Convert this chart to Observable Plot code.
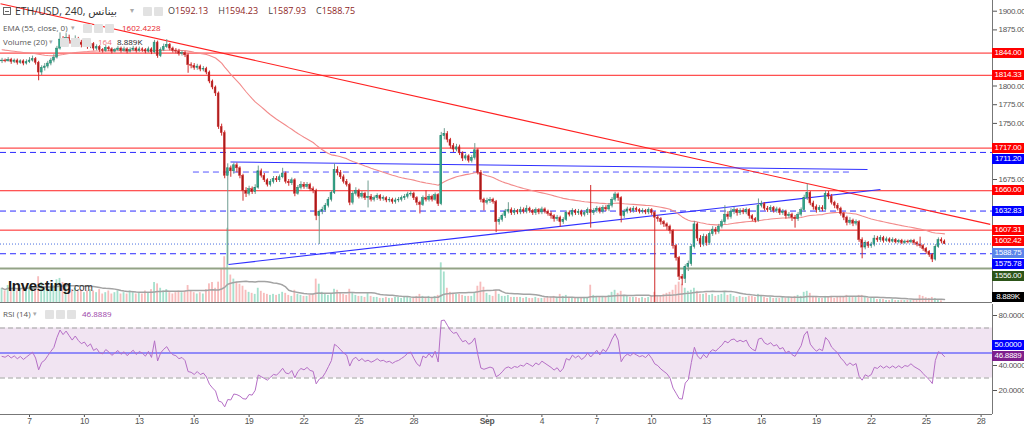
<!DOCTYPE html>
<html><head><meta charset="utf-8">
<script src="https://cdn.jsdelivr.net/npm/d3@7"></script>
<script src="https://cdn.jsdelivr.net/npm/@observablehq/plot@0.6"></script>
<style>
html,body{margin:0;padding:0;background:#fff;}
#chart{position:relative;width:1024px;height:430px;overflow:hidden;background:#fff;font-family:"Liberation Sans",Arial,"DejaVu Sans",sans-serif;}
.layer{position:absolute;left:0;}
.t{position:absolute;white-space:nowrap;line-height:12px;}
.ic{position:absolute;width:9px;height:9px;background:#e2e2e2;border-radius:1px;}
.box{position:absolute;left:992px;width:32px;height:10px;color:#fff;font-size:8px;line-height:10px;text-align:center;letter-spacing:-0.3px;}
</style></head><body><div id="chart"></div><script>
// ---------------- data ----------------
const candleStart = "2023-08-05T12:00:00Z";   // first 240-minute bar
const candleHours = 4;
const firstOpen = 1833;
const closes = [
1834,1833,1835,1832,1834,1831,1833,1830,1832,1834,
1836,1831,1818,1824,1826,1830,1834,1838,1850,1862,
1858,1864,1860,1856,1862,1858,1855,1857,1853,1856,
1850,1852,1848,1847,1851,1849,1846,1848,1850,1847,
1849,1846,1848,1850,1847,1849,1848,1846,1849,1845,
1858,1840,1848,1852,1855,1850,1847,1846,1843,1844,
1841,1828,1827,1824,1826,1822,1823,1818,1806,1798,
1790,1745,1737,1680,1690,1686,1694,1690,1680,1660,
1656,1662,1658,1664,1686,1680,1674,1668,1672,1676,
1674,1678,1683,1672,1670,1674,1656,1664,1668,1665,
1668,1662,1660,1626,1632,1634,1640,1648,1657,1688,
1684,1678,1672,1668,1644,1656,1660,1652,1656,1650,
1652,1648,1650,1653,1649,1650,1647,1648,1645,1647,
1648,1650,1652,1655,1656,1650,1644,1641,1650,1648,
1652,1648,1654,1642,1733,1736,1728,1720,1715,1718,
1710,1703,1706,1700,1704,1714,1684,1648,1644,1646,
1648,1645,1618,1621,1626,1632,1634,1630,1633,1631,
1634,1632,1636,1633,1630,1634,1631,1635,1632,1629,
1626,1622,1624,1618,1621,1630,1628,1633,1630,1632,
1628,1630,1634,1630,1633,1636,1632,1637,1635,1640,
1648,1655,1650,1626,1632,1635,1633,1636,1634,1632,
1633,1631,1634,1630,1624,1622,1618,1615,1612,1606,
1586,1570,1545,1542,1558,1562,1585,1615,1596,1588,
1598,1590,1602,1608,1605,1612,1618,1628,1625,1632,
1634,1630,1633,1631,1634,1626,1622,1620,1640,1642,
1636,1634,1637,1633,1635,1630,1632,1626,1628,1624,
1622,1628,1634,1650,1657,1643,1638,1634,1637,1635,
1656,1652,1644,1640,1636,1629,1624,1617,1620,1616,
1618,1594,1584,1590,1586,1588,1596,1594,1597,1593,
1595,1592,1594,1591,1593,1590,1592,1591,1593,1590,
1588,1586,1582,1578,1574,1568,1585,1594,1592.13,1588.75];
const highs = [
1837,1836,1838,1837,1836,1836,1835,1835,1835,1838,
1840,1838,1833,1827,1830,1833,1837,1842,1853,1871,
1866,1870,1868,1863,1867,1865,1861,1860,1859,1859,
1858,1855,1854,1850,1854,1853,1851,1850,1853,1852,
1852,1851,1851,1853,1852,1852,1851,1850,1852,1851,
1861,1860,1851,1856,1862,1857,1852,1850,1849,1847,
1846,1843,1831,1830,1829,1828,1826,1825,1820,1808,
1800,1792,1749,1740,1696,1693,1697,1697,1692,1682,
1664,1666,1665,1668,1693,1689,1683,1676,1675,1679,
1679,1681,1690,1685,1675,1677,1676,1667,1672,1671,
1671,1670,1665,1662,1634,1638,1643,1651,1660,1696,
1692,1687,1681,1675,1670,1659,1664,1662,1659,1658,
1673,1655,1653,1656,1655,1653,1652,1651,1650,1650,
1651,1653,1655,1658,1659,1658,1652,1646,1653,1660,
1655,1654,1657,1656,1738,1743,1739,1730,1723,1722,
1721,1712,1709,1708,1707,1723,1716,1687,1650,1650,
1651,1650,1647,1624,1629,1635,1644,1637,1636,1635,
1638,1637,1640,1638,1635,1637,1636,1638,1637,1634,
1632,1628,1627,1626,1624,1633,1633,1636,1635,1635,
1634,1633,1637,1667,1636,1639,1638,1640,1640,1643,
1651,1658,1657,1652,1635,1638,1637,1639,1638,1636,
1636,1635,1637,1636,1632,1627,1624,1620,1617,1614,
1608,1588,1572,1548,1561,1566,1588,1619,1617,1600,
1602,1601,1605,1612,1611,1615,1621,1640,1632,1636,
1638,1636,1636,1636,1637,1636,1628,1624,1649,1646,
1644,1639,1640,1639,1638,1637,1635,1634,1631,1630,
1627,1631,1637,1654,1669,1659,1646,1641,1640,1640,
1660,1659,1655,1646,1643,1638,1631,1626,1624,1622,
1621,1620,1597,1593,1592,1591,1600,1599,1600,1599,
1598,1597,1597,1596,1595,1595,1594,1594,1595,1595,
1592,1598,1588,1584,1580,1576,1588,1597,1597,1594.23];
const lows = [
1830,1831,1832,1829,1830,1828,1829,1827,1828,1830,
1832,1828,1807,1814,1820,1823,1827,1831,1836,1848,
1854,1855,1856,1852,1853,1854,1851,1852,1849,1850,
1847,1847,1845,1844,1845,1846,1843,1844,1846,1844,
1845,1843,1844,1846,1844,1845,1845,1843,1844,1842,
1843,1837,1838,1846,1850,1847,1844,1843,1840,1840,
1838,1817,1823,1821,1821,1819,1819,1815,1803,1795,
1786,1742,1733,1676,1561,1678,1682,1684,1676,1646,
1651,1653,1655,1655,1662,1677,1671,1665,1665,1669,
1671,1671,1676,1669,1666,1667,1652,1654,1661,1662,
1662,1659,1656,1620,1588,1628,1631,1637,1645,1655,
1680,1675,1669,1665,1640,1641,1653,1649,1649,1647,
1637,1645,1645,1647,1646,1646,1644,1644,1642,1642,
1644,1645,1647,1649,1652,1647,1640,1629,1639,1645,
1645,1645,1646,1639,1640,1728,1724,1716,1711,1712,
1707,1699,1700,1697,1697,1701,1681,1644,1633,1641,
1643,1642,1604,1614,1618,1623,1629,1627,1627,1628,
1628,1629,1629,1630,1627,1627,1628,1628,1629,1626,
1622,1618,1619,1611,1615,1619,1625,1625,1627,1627,
1625,1625,1627,1610,1627,1630,1629,1629,1632,1632,
1637,1645,1646,1617,1623,1629,1630,1630,1631,1629,
1629,1628,1628,1627,1505,1618,1614,1611,1607,1602,
1582,1566,1540,1533,1536,1552,1559,1582,1592,1584,
1585,1586,1587,1599,1601,1602,1609,1615,1621,1622,
1628,1626,1627,1628,1628,1622,1619,1617,1618,1637,
1633,1631,1631,1630,1630,1627,1627,1622,1623,1619,
1610,1619,1625,1631,1647,1640,1634,1630,1631,1632,
1633,1648,1641,1636,1633,1626,1620,1613,1614,1612,
1613,1591,1569,1581,1583,1583,1585,1591,1591,1590,
1591,1590,1590,1589,1589,1588,1588,1589,1589,1587,
1585,1583,1579,1575,1571,1564,1566,1583,1589,1587.93];
const volumesK = [
42,34,50,38,46,34,42,55,38,46,
42,46,76,59,42,38,46,50,67,71,
59,50,46,38,42,34,38,29,34,38,
34,29,38,25,29,34,25,29,34,25,
29,25,34,29,25,29,25,34,29,38,
59,55,42,34,38,29,25,29,34,29,
34,50,34,29,25,29,25,38,55,59,
42,60,99,135,219,81,69,60,54,48,
36,30,27,24,42,33,27,24,21,24,
21,24,30,27,21,18,36,24,21,18,
18,21,24,69,54,30,24,21,24,39,
36,27,24,21,39,27,21,18,18,15,
27,18,15,15,12,12,15,12,12,15,
15,12,15,15,12,15,18,24,18,15,
18,15,18,21,117,90,42,30,27,24,
24,21,18,18,18,30,48,60,45,27,
21,18,36,24,18,18,21,15,15,15,
15,12,15,12,12,15,12,12,12,15,
15,18,15,24,18,21,15,15,12,12,
12,15,15,51,21,18,15,18,15,21,
30,36,27,33,21,18,15,15,15,12,
15,12,15,18,30,21,18,24,27,30,
36,51,60,54,42,33,36,42,33,24,
24,27,21,24,18,21,24,30,21,24,
18,15,18,15,15,18,18,15,24,18,
15,12,15,12,12,12,15,12,15,15,
18,21,18,30,33,27,18,15,12,12,
18,15,18,12,15,18,15,21,15,15,
15,21,21,15,12,12,12,9,9,9,
6,6,9,6,6,6,6,6,6,6,
9,21,18,14,12,15,12,8,5,0.164];

const emaPeriod = 55, emaSeed = 1849;
const rsiPeriod = 14, rsiSeedGain = 2.6, rsiSeedLoss = 2.9;
const volMaPeriod = 20;

const visibleFrom = "2023-08-05T09:58:00Z";
const visibleTo = "2023-09-28T14:57:00Z";
const priceDomain = [1510.6, 1914.3];
const priceTicks = [1525,1550,1575,1600,1625,1650,1675,1700,1725,1750,1775,1800,1825,1850,1875,1900];
const volumeDomainK = [0, 891];
const rsiDomain = [0.8, 88.8];
const rsiTicks = [20, 40, 60, 80];
const rsiBand = [30, 70];
const rsiMid = 50;

const tickDates = ["2023-08-07","2023-08-10","2023-08-13","2023-08-16","2023-08-19","2023-08-22","2023-08-25","2023-08-28","2023-09-01","2023-09-04","2023-09-07","2023-09-10","2023-09-13","2023-09-16","2023-09-19","2023-09-22","2023-09-25","2023-09-28"];
const tickLabels = ["7","10","13","16","19","22","25","28","Sep","4","7","10","13","16","19","22","25","28"];

const levelPrices = [1844, 1814.33, 1717, 1711.20, 1660, 1632.83, 1607.31, 1575.78, 1556];
const levelKinds = ["resistance","resistance","resistance","pivot","resistance","pivot","resistance","pivot","support"];
const partialLevelPrice = 1685;
const partialLevelTimes = ["2023-08-15T23:00:00Z", "2023-09-20T21:00:00Z"];

const trendKinds = ["falling", "triangle", "triangle"];
const trendStartTimes = ["2023-08-05T10:00:00Z", "2023-08-17T23:30:00Z", "2023-08-17T21:00:00Z"];
const trendStartPrices = [1910, 1698.4, 1561.4];
const trendEndTimes = ["2023-09-28T12:00:00Z", "2023-09-21T19:00:00Z", "2023-09-22T12:00:00Z"];
const trendEndPrices = [1615, 1688.4, 1661.6];

const symbolTitle = "ETH/USD, 240, بينانس";
const emaTitle = "EMA (55, close, 0)";
const emaReadout = 1602.4228;
const volTitle = "Volume (20)";
const volMaReadoutK = 8.889;
const rsiTitle = "RSI (14)";
const rsiReadout = 46.8889;

// ---------------- styles ----------------
const C = {
  upFill:"#2fa88b", upWick:"#6f9d90", downFill:"#a51b1b", downWick:"#cf2a2a",
  volUp:"#a6e0cd", volDown:"#f7bcbc", volMa:"#a3a3a3", ema:"#f28b8b",
  red:"#ff2020", blue:"#2b2bff", support:"#93a386", current:"#4a6fe0",
  rsi:"#b56fc6", band:"#f1e4f2", axis:"#555"
};
const levelStyle = {
  resistance:{stroke:C.red, width:1, dash:null, box:"#ff0000"},
  pivot:{stroke:C.blue, width:1, dash:"6,4", box:"#0000ff"},
  support:{stroke:C.support, width:2, dash:null, box:"#2c5418"}
};
const FONT = '"Liberation Sans", Arial, "DejaVu Sans", sans-serif';
const BOX_H = 10, BOX_STEP = 11.5, LABEL_HALF = 3;

// ---------------- derived ----------------
const stepMs = candleHours * 3600e3;
const t0 = Date.parse(candleStart);
const half = 1.2 * 3600e3;
const bars = closes.map((c, i) => {
  const o = i === 0 ? firstOpen : closes[i - 1];
  return {t:new Date(t0 + i * stepMs), o, c, h:Math.max(highs[i], o, c), l:Math.min(lows[i], o, c), v:volumesK[i], up:c >= o};
});
const kE = 2 / (emaPeriod + 1); let e = emaSeed;
bars.forEach(b => { e = b.c * kE + e * (1 - kE); b.ema = e; });
bars.forEach((b, i) => { b.vma = d3.mean(bars.slice(Math.max(0, i - volMaPeriod + 1), i + 1), d => d.v); });
let ag = rsiSeedGain, al = rsiSeedLoss;
bars.forEach((b, i) => {
  if (i > 0) { const d = b.c - bars[i - 1].c; ag = (ag * (rsiPeriod - 1) + Math.max(d, 0)) / rsiPeriod; al = (al * (rsiPeriod - 1) + Math.max(-d, 0)) / rsiPeriod; }
  b.rsi = 100 - 100 / (1 + ag / al);
});
const xDomain = [new Date(visibleFrom), new Date(visibleTo)];
const levels = levelPrices.map((p, i) => ({price:p, kind:levelKinds[i]}));
const trends = trendKinds.map((k, i) => ({kind:k, x1:new Date(trendStartTimes[i]), y1:trendStartPrices[i], x2:new Date(trendEndTimes[i]), y2:trendEndPrices[i]}));
const ticks = tickDates.map((d, i) => ({date:new Date(d), label:tickLabels[i]}));
const last = bars[bars.length - 1];

const root = document.getElementById("chart");
function layer(node, top){ const d = document.createElement("div"); d.className = "layer"; d.style.top = top + "px"; d.appendChild(node); root.appendChild(d); return d; }
function stackDown(items){ items.sort((a, b) => a.y - b.y); let prev = -Infinity; for (const b of items) { let c = b.y; if (c < prev + BOX_STEP) c = prev + BOX_STEP; b.c = c; prev = c; } return items; }
function stackUp(items){ items.sort((a, b) => b.y - a.y); let prev = Infinity; for (const b of items) { let c = b.y; if (c > prev - BOX_STEP) c = prev - BOX_STEP; b.c = c; prev = c; } return items; }
function visibleTicks(tickValues, scale, boxes, offset){ return tickValues.filter(v => boxes.every(b => Math.abs(scale.apply(v) + offset - b.c) >= BOX_H / 2 + LABEL_HALF)); }

// ---------------- volume (under price) ----------------
const volChart = Plot.plot({
  width:1024, height:303, marginLeft:0, marginRight:32, marginTop:0, marginBottom:1,
  x:{type:"utc", domain:xDomain, axis:null},
  y:{domain:volumeDomainK, axis:null},
  style:{background:"transparent"},
  marks:[
    Plot.rect(bars, {x1:d => new Date(+d.t - half), x2:d => new Date(+d.t + half), y1:0, y2:"v", fill:d => d.up ? C.volUp : C.volDown}),
    Plot.line(bars, {x:"t", y:"vma", stroke:C.volMa, strokeWidth:1.5})
  ]
});
layer(volChart, 0);

// ---------------- price ----------------
function priceMarks(){
  const m = [];
  for (const kind of Object.keys(levelStyle)) {
    const s = levelStyle[kind];
    m.push(Plot.ruleY(levels.filter(d => d.kind === kind), {y:"price", stroke:s.stroke, strokeWidth:s.width, strokeDasharray:s.dash}));
  }
  m.push(
    Plot.ruleY([partialLevelPrice], {y:d => d, x1:new Date(partialLevelTimes[0]), x2:new Date(partialLevelTimes[1]), stroke:C.blue, strokeOpacity:0.8, strokeDasharray:"6,4"}),
    Plot.link(trends, {x1:"x1", y1:"y1", x2:"x2", y2:"y2", stroke:d => d.kind === "falling" ? C.red : "#3030ff", strokeWidth:1.1, clip:true}),
    Plot.line(bars, {x:"t", y:"ema", stroke:C.ema, strokeWidth:1.1, clip:true}),
    Plot.ruleX(bars, {x:"t", y1:"l", y2:"h", stroke:d => d.up ? C.upWick : C.downWick, strokeWidth:1, clip:true}),
    Plot.rect(bars, {x1:d => new Date(+d.t - half), x2:d => new Date(+d.t + half), y1:"o", y2:"c", fill:d => d.up ? C.upFill : C.downFill, stroke:d => d.up ? "#23806b" : "#d43030", strokeWidth:0.5, clip:true}),
    Plot.ruleY([last.c], {y:d => d, stroke:C.current, strokeWidth:1, strokeDasharray:"1,2"}),
    Plot.ruleX([xDomain[1]], {stroke:"#777"}),
    Plot.ruleY([priceDomain[0]], {stroke:"#777"})
  );
  return m;
}
function makePrice(tickValues){
  return Plot.plot({
    width:1024, height:303, marginLeft:0, marginRight:32, marginTop:0, marginBottom:1,
    x:{type:"utc", domain:xDomain, axis:null},
    y:{domain:priceDomain, axis:"right", ticks:tickValues, tickFormat:d3.format(".2f"), tickSize:4, tickPadding:2, label:null},
    style:{background:"transparent", fontSize:"8px", fontFamily:FONT, color:C.axis, letterSpacing:"-0.3px"},
    marks:priceMarks()
  });
}
const py = makePrice(priceTicks).scale("y");
const priceBoxes = levels.map(d => ({y:py.apply(d.price), text:d3.format(".2f")(d.price), color:levelStyle[d.kind].box}));
priceBoxes.push({y:py.apply(emaReadout), text:d3.format(".2f")(emaReadout), color:"#ff0000"});
priceBoxes.push({y:py.apply(last.c), text:d3.format(".2f")(last.c), color:"#5b85ea"});
stackDown(priceBoxes);
const vy = volChart.scale("y");
const volBox = {y:vy.apply(volMaReadoutK), text:d3.format(".3f")(volMaReadoutK) + "K", color:"#000"};
volBox.c = Math.min(volBox.y, 302 - BOX_H / 2);
const priceChart = makePrice(visibleTicks(priceTicks, py, priceBoxes.concat([volBox]), 0));
layer(priceChart, 0);

// ---------------- RSI ----------------
function makeRsi(tickValues){
  return Plot.plot({
    width:1024, height:127, marginLeft:0, marginRight:32, marginTop:1, marginBottom:16,
    x:{type:"utc", domain:xDomain, ticks:ticks.map(d => d.date), tickFormat:() => "", tickSize:3, label:null},
    y:{domain:rsiDomain, axis:"right", ticks:tickValues, tickFormat:d3.format(".4f"), tickSize:4, tickPadding:2, label:null},
    style:{background:"transparent", fontSize:"8px", fontFamily:FONT, color:C.axis, letterSpacing:"-0.3px"},
    marks:[
      Plot.rect([rsiBand], {x1:xDomain[0], x2:xDomain[1], y1:d => d[0], y2:d => d[1], fill:C.band}),
      Plot.ruleY(rsiBand, {y:d => d, stroke:"#a0a0a0", strokeDasharray:"5,3"}),
      Plot.ruleY([rsiMid], {y:d => d, stroke:"#3030ff"}),
      Plot.line(bars, {x:"t", y:"rsi", stroke:C.rsi, strokeWidth:1}),
      Plot.ruleX([xDomain[1]], {stroke:"#777"}),
      Plot.ruleY([rsiDomain[0]], {stroke:"#777"}),
      Plot.text(ticks.filter(d => isNaN(+d.label)), {x:"date", text:"label", frameAnchor:"bottom", dy:9, fontSize:8.5, fontWeight:"bold", fill:"#555"}),
      Plot.text(ticks.filter(d => !isNaN(+d.label)), {x:"date", text:"label", frameAnchor:"bottom", dy:9, fontSize:8.5, fill:"#555"})
    ]
  });
}
const RSI_TOP = 303;
const ry = makeRsi(rsiTicks).scale("y");
const rsiBoxes = stackUp([
  {y:RSI_TOP + ry.apply(rsiMid), text:d3.format(".4f")(rsiMid), color:"#0000ff"},
  {y:RSI_TOP + ry.apply(rsiReadout), text:d3.format(".4f")(rsiReadout), color:"#7e1f8c"}
]);
const rsiChart = makeRsi(visibleTicks(rsiTicks, ry, rsiBoxes, RSI_TOP));
layer(rsiChart, RSI_TOP);

// ---------------- right-axis value boxes ----------------
function addBox(parent, b){ const d = document.createElement("div"); d.className = "box"; d.style.top = (b.c - BOX_H / 2) + "px"; d.style.background = b.color; d.textContent = b.text; parent.appendChild(d); }
priceBoxes.forEach(b => addBox(root, b));
addBox(root, volBox);
rsiBoxes.forEach(b => addBox(root, b));

// ---------------- legends ----------------
function txt(left, top, html, css){ const d = document.createElement("div"); d.className = "t"; d.style.left = left + "px"; d.style.top = top + "px"; d.style.cssText += css || ""; d.innerHTML = html; root.appendChild(d); return d; }
function icon(left, top){ const d = document.createElement("div"); d.className = "ic"; d.style.left = left + "px"; d.style.top = top + "px"; root.appendChild(d); }
const L = 'font-family:"Open Sans","Liberation Sans","DejaVu Sans",sans-serif;';
const sq = document.createElement("div");
sq.style.cssText = "position:absolute;left:3px;top:7px;width:8px;height:8px;border:1px solid #666;box-sizing:border-box;";
sq.innerHTML = '<div style="position:absolute;left:1px;top:2.5px;width:4px;height:1px;background:#666"></div>';
root.appendChild(sq);
txt(15, 5, symbolTitle, L + "font-size:10.5px;color:#333;");
txt(130, 5, "▾", "font-size:8px;color:#aaa;");
icon(143, 7); icon(154, 7);
const fmt2 = d3.format(".2f");
const ohlc = [["O", last.o], ["H", last.h], ["L", last.l], ["C", last.c]];
txt(168, 5, ohlc.map(([k, v]) => `<span style="color:#444">${k}</span><span style="color:#8e1d1d">${fmt2(v)}</span>`).join('<span style="display:inline-block;width:10px"></span>'), L + "font-size:9px;");
txt(3, 22, emaTitle, L + "font-size:8px;color:#555;");
txt(71, 22, "▾", "font-size:7px;color:#aaa;");
icon(83, 24); icon(94, 24); icon(105, 24);
txt(122, 22, d3.format(".4f")(emaReadout), L + "font-size:8px;color:#e8262b;");
txt(3, 36, volTitle, L + "font-size:8px;color:#555;");
txt(49, 36, "▾", "font-size:7px;color:#aaa;");
icon(60, 38); icon(71, 38); icon(82, 38);
txt(98, 36, String(Math.round(last.v * 1000)), L + "font-size:8px;color:#f07878;");
txt(117, 36, d3.format(".3f")(volMaReadoutK) + "K", L + "font-size:8px;color:#222;");
txt(3, 308, rsiTitle, L + "font-size:8px;color:#555;");
txt(33, 308, "▾", "font-size:7px;color:#aaa;");
icon(45, 310); icon(56, 310); icon(67, 310);
txt(82, 308, d3.format(".4f")(rsiReadout), L + "font-size:8px;color:#9b3fa8;");
txt(8, 278, '<span style="font-weight:bold;font-size:15px;color:#1a1a1a;letter-spacing:-0.3px">Investing</span><span style="font-size:10px;color:#333">.com</span>', "line-height:16px;");
</script></body></html>
